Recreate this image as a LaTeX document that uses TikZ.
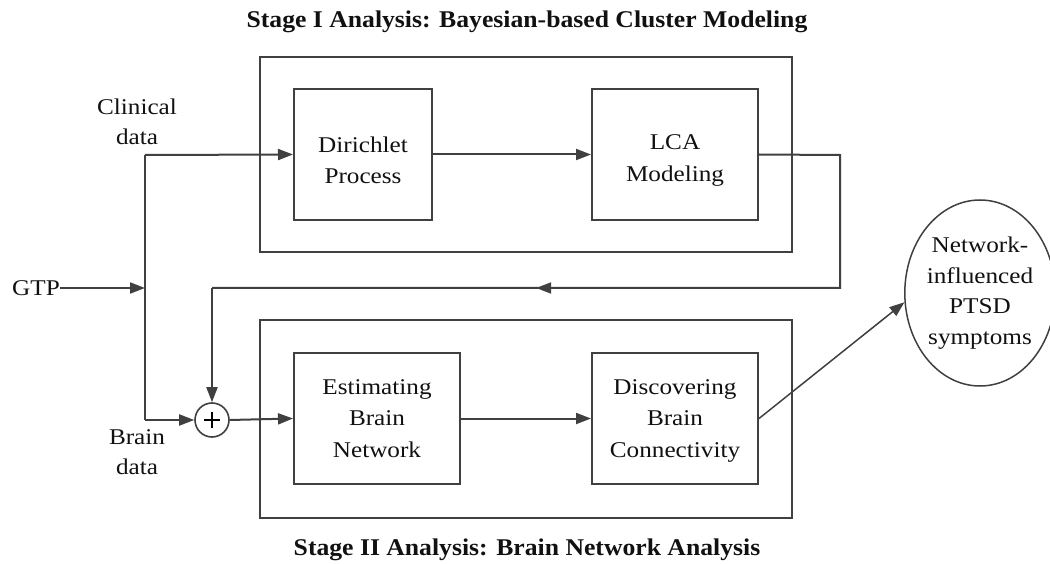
\documentclass[tikz,border=0pt]{standalone}
\usepackage{fontspec}
\setmainfont{Liberation Serif}[FakeStretch=1.12]
\newfontfamily\titlefont{Liberation Serif}[FakeStretch=1.07]
\usetikzlibrary{arrows.meta,shapes.geometric,decorations.markings,calc}
\definecolor{linec}{HTML}{404040}
\definecolor{txtc}{HTML}{111111}
\tikzset{
  ln/.style={draw=linec,line width=2pt},
  arr/.style={ln,-{Triangle[length=15pt,width=11pt]}},
  inbox/.style={ln,rectangle,minimum height=131pt,inner sep=0pt},
  boxtxt/.style={align=center,inner sep=0pt,text=txtc,font=\fontsize{22.5}{31.5}\selectfont},
  lbl/.style={align=center,inner sep=0pt,text=txtc,font=\fontsize{22.5}{30}\selectfont},
  ttl/.style={inner sep=0pt,text=txtc,font=\titlefont\bfseries\fontsize{24}{28}\selectfont},
  midarr/.style={postaction={decorate},decoration={markings,
    mark=at position #1 with {\arrow{Triangle[length=15pt,width=11pt]}}}}
}
\begin{document}
\begin{tikzpicture}[x=1pt,y=-1pt]
\useasboundingbox (0,0) rectangle (1050,564);
% outer stage boxes
\node[ln,rectangle,minimum width=532pt,minimum height=195pt,inner sep=0pt] (stageA) at (526,154.5) {};
\node[ln,rectangle,minimum width=532pt,minimum height=198pt,inner sep=0pt] (stageB) at (526,419) {};
% titles
\node[ttl] (t1) at (527,22) {Stage I Analysis: Bayesian-based Cluster Modeling};
\node[ttl] (t2) at (527,550) {Stage II Analysis: Brain Network Analysis};
% inner boxes
\node[inbox,minimum width=138pt] (dir) at (363,154.5) {};
\node[inbox,minimum width=166pt] (lca) at (675,154.5) {};
\node[inbox,minimum width=166pt] (est) at (377,418.5) {};
\node[inbox,minimum width=166pt] (disc) at (675,418.5) {};
\node[boxtxt] (dirt) at ([yshift=-6pt]dir.center) {Dirichlet\\Process};
\node[boxtxt] (lcat) at ([yshift=-6pt]lca.center) {LCA\\Modeling};
\node[boxtxt] (estt) at (est.center) {Estimating\\Brain\\Network};
\node[boxtxt] (disct) at ([yshift=-2pt]disc.center) {Discovering\\Brain\\Connectivity};
% summing junction
\node[ln,circle,minimum size=34pt,inner sep=0pt,fill=white,line width=1.6pt] (sum) at (212,420) {};
\draw[line width=1.3pt] ($(sum.center)+(-8,0)$) -- ($(sum.center)+(8,0)$);
\draw[line width=1.3pt] ($(sum.center)+(0,-8)$) -- ($(sum.center)+(0,8)$);
% ellipse
\node[ellipse,draw=linec,line width=1.5pt,minimum width=144pt,minimum height=186pt,align=center,inner sep=0pt,text=txtc,
  font=\fontsize{22.5}{30.5}\selectfont] (ptsd) at (980,293) {Network-\\influenced\\PTSD\\symptoms};
% labels
\node[lbl] (clin) at (137,122) {Clinical\\data};
\node[lbl] (brain) at (137,452) {Brain\\data};
\node[lbl] (gtp) at (36,288) {GTP};
% junction coordinates
\coordinate (jtop) at (145,155);
\coordinate (jmid) at (145,288);
\coordinate (jbot) at (145,420);
\coordinate (fb1) at (840,155);
\coordinate (fb2) at (840,288);
\coordinate (fb3) at (212,288);
% connectors
\draw[ln] (jtop) -- (jbot);
\draw[arr] (gtp.east) -- (jmid);
\draw[arr] (jtop) -- (dir.west);
\draw[arr] (jbot) -- (sum.west);
\draw[arr] (dir.east) -- (lca.west);
\draw[ln,midarr=0.615] (lca.east) -- (fb1) -- (fb2) -- (fb3);
\draw[arr] (fb3) -- (sum.north);
\draw[arr] (sum.east) -- (est.west);
\draw[arr] (est.east) -- (disc.west);
\draw[arr,line width=1.5pt] (disc.east) -- (ptsd.187);
\end{tikzpicture}
\end{document}
